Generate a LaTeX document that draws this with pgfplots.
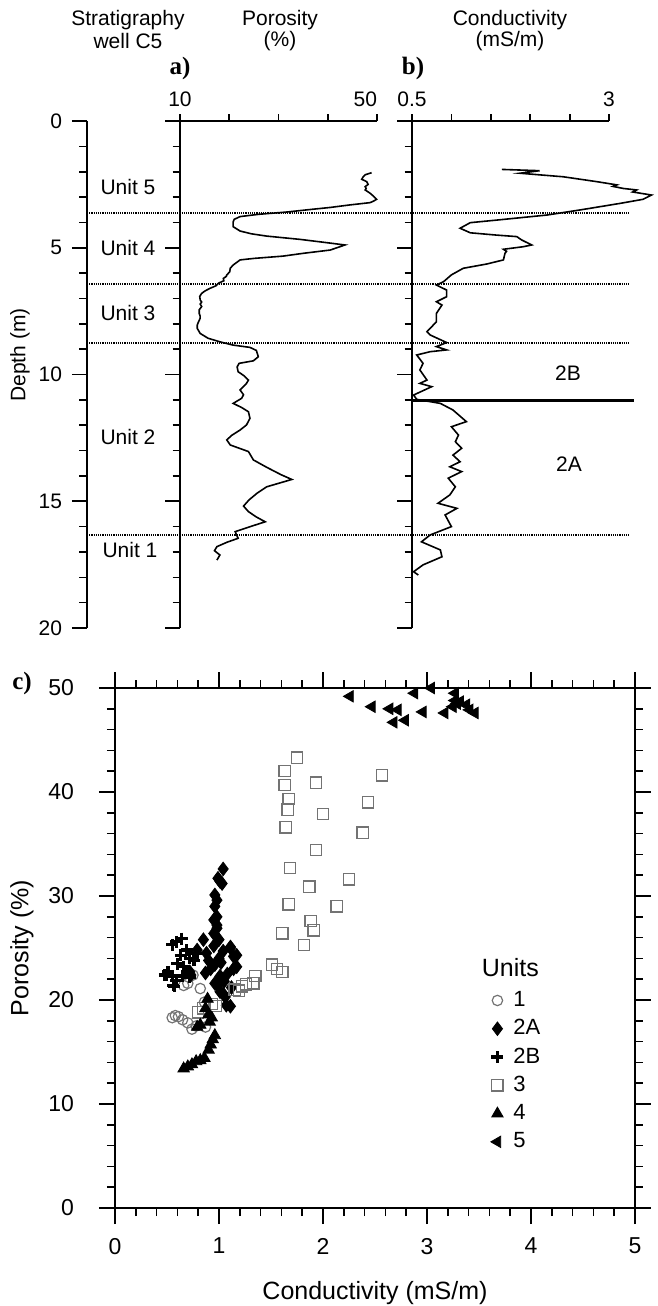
\documentclass[border=0pt]{standalone}
\usepackage{fontspec}
\setmainfont{Liberation Sans}
\newfontfamily\timesfont{Liberation Serif}
\usepackage{pgfplots}
\usepackage{pgfplotstable}
\pgfplotsset{compat=1.18}

\pgfplotstableread{
por dep
48.9 2.04
47.6 2.12
47.2 2.20
46.9 2.30
47.9 2.39
48.2 2.50
47.6 2.59
47.8 2.66
47.6 2.72
48.6 2.85
49.2 2.95
49.9 3.09
49.3 3.16
48.6 3.22
44.5 3.31
40.5 3.41
36.0 3.50
31.7 3.59
26.0 3.68
22.2 3.77
21.0 3.88
20.8 3.98
20.8 4.17
22.2 4.34
24.5 4.45
27.6 4.54
34.4 4.67
39.0 4.78
43.5 4.89
40.5 5.09
35.0 5.22
30.9 5.33
25.0 5.42
22.2 5.48
20.8 5.68
20.2 5.81
20.1 5.95
19.5 6.07
19.4 6.13
18.8 6.21
18.9 6.30
17.8 6.40
17.3 6.50
16.1 6.60
15.1 6.70
14.4 6.80
14.0 6.92
14.1 7.06
14.4 7.14
14.1 7.22
14.4 7.32
13.9 7.45
13.9 7.59
14.1 7.70
14.1 7.78
13.7 7.95
13.5 8.05
13.5 8.18
14.1 8.38
15.7 8.57
18.1 8.71
20.8 8.84
24.2 8.93
25.5 9.05
25.9 9.30
24.9 9.46
22.0 9.56
21.6 9.70
21.8 9.89
23.0 10.05
23.9 10.22
23.5 10.35
22.2 10.61
22.9 10.80
22.5 10.94
20.8 11.14
22.5 11.30
23.9 11.47
24.2 11.73
23.5 11.99
22.2 12.19
20.5 12.40
19.5 12.58
20.2 12.78
23.9 13.04
24.9 13.37
27.6 13.66
30.5 13.95
32.7 14.14
27.6 14.43
25.6 14.69
24.0 14.95
22.9 15.19
23.9 15.41
25.5 15.62
27.3 15.81
24.9 15.96
21.2 16.20
21.8 16.46
19.5 16.62
17.5 16.79
17.0 16.95
18.1 17.12
17.5 17.32
}\porcurve

\pgfplotstableread{
con dep
1.64 1.91
2.12 1.96
1.87 2.06
2.42 2.20
2.84 2.39
3.10 2.52
3.05 2.58
3.18 2.66
3.35 2.72
3.30 2.80
3.54 2.92
3.43 3.09
3.14 3.25
2.63 3.51
2.21 3.71
1.57 3.91
1.24 4.01
1.11 4.23
1.24 4.41
1.57 4.50
1.83 4.56
1.89 4.69
2.02 4.89
1.91 4.96
1.66 5.06
1.70 5.14
1.68 5.22
1.66 5.48
1.45 5.64
1.15 5.81
1.00 6.07
0.90 6.34
0.81 6.47
0.94 6.67
0.94 6.93
0.81 7.13
0.88 7.26
0.81 7.59
0.81 7.92
0.69 8.31
0.73 8.44
0.94 8.74
0.81 8.90
0.94 9.03
0.73 9.10
0.56 9.23
0.64 9.56
0.60 9.82
0.69 10.22
0.60 10.35
0.75 10.48
0.52 10.81
0.56 10.98
0.86 11.14
1.02 11.40
1.19 11.86
1.00 12.06
1.09 12.39
1.05 12.65
1.13 12.91
1.02 13.18
1.11 13.44
0.98 13.64
1.13 13.83
0.96 14.09
1.05 14.43
0.98 14.75
0.83 15.08
1.07 15.28
0.92 15.54
1.00 16.00
0.73 16.33
0.62 16.60
0.86 16.92
0.88 17.19
0.64 17.51
0.52 17.78
0.58 17.91
}\concurve

\pgfplotstableread{
c p
0.55 18.3
0.58 18.5
0.61 18.4
0.65 18.1
0.70 17.8
0.74 17.2
0.78 17.5
0.87 17.4
0.82 21.1
0.86 19.8
0.66 21.4
0.70 21.6
0.75 22.4
}\uA

\pgfplotstableread{
c p
1.04 32.6
0.99 31.7
1.03 31.2
1.01 31.4
0.96 30.1
0.98 29.6
0.96 29.0
0.98 28.0
0.95 27.7
0.98 27.2
0.98 26.9
0.95 26.4
0.85 25.8
1.00 25.8
1.11 25.1
1.17 24.3
0.88 24.5
0.79 24.8
1.04 24.7
1.11 25.0
1.14 24.2
1.17 23.2
1.00 24.0
0.96 23.4
0.87 22.6
0.92 23.0
1.01 22.3
0.96 21.6
1.05 21.8
1.01 20.8
1.06 20.3
1.07 19.5
1.11 19.4
0.72 22.7
1.04 20.6
0.99 21.4
1.14 23.0
0.73 22.4
0.95 25.2
1.02 23.6
1.08 22.5
1.12 21.2
0.90 23.8
}\uBA

\pgfplotstableread{
c p
0.59 25.6
0.64 25.9
0.55 25.3
0.69 24.8
0.63 24.3
0.72 24.0
0.76 23.8
0.51 22.7
0.48 22.4
0.55 22.3
0.59 21.9
0.65 22.3
0.69 22.6
0.56 21.4
0.72 22.2
0.79 24.5
0.49 22.4
0.57 21.3
0.60 23.5
0.66 23.2
}\uBB

\pgfplotstableread{
c p
1.75 43.3
1.63 42.0
1.63 40.7
1.93 40.9
1.67 39.3
1.66 38.3
2.00 37.9
1.64 36.6
1.93 34.4
1.68 32.7
2.25 31.6
1.87 30.9
1.67 29.2
2.13 29.0
1.88 27.6
1.91 26.7
1.61 26.4
2.57 41.6
2.43 39.0
2.38 36.1
1.82 25.3
1.51 23.4
1.56 23.0
1.61 22.7
0.80 18.8
0.97 19.4
1.15 21.0
1.22 21.3
1.33 21.6
1.35 22.3
1.26 21.5
1.19 20.9
0.85 19.2
0.93 19.6
}\uC

\pgfplotstableread{
c p
0.66 13.4
0.70 13.6
0.74 13.8
0.78 14.1
0.82 14.2
0.86 14.4
0.90 15.2
0.92 15.7
0.94 16.2
0.96 16.6
0.91 17.9
0.93 18.3
0.79 17.4
0.82 17.6
0.89 20.1
0.87 19.2
0.90 18.6
}\uD

\pgfplotstableread{
c p
2.26 49.2
2.47 48.2
2.64 48.0
2.72 47.9
2.68 46.7
2.79 46.9
2.88 49.5
2.96 47.7
3.04 50.0
3.17 47.6
3.27 49.5
3.27 48.8
3.29 48.5
3.25 48.2
3.32 48.7
3.38 48.4
3.41 47.9
3.46 47.6
}\uE

\pgfplotsset{
  well/.style={
    scale only axis, anchor=north west, height=253.5pt,
    y dir=reverse, ymin=0, ymax=20,
    ytick={0,5,10,15,20}, minor y tick num=4,
    major tick length=7.5pt, minor tick length=3.75pt,
    axis line style={line width=1pt},
    every tick/.style={line width=0.8pt,black},
    clip=false,
    /pgf/number format/assume math mode=true,
    ticklabel style={font=\fontsize{10.5}{12}\selectfont},
    yticklabel style={xshift=-1.5pt},
  },
  topx/.style={
    scale only axis, anchor=north west, height=253.5pt,
    y dir=reverse, ymin=0, ymax=20,
    axis x line*=top, axis y line=none,
    tick align=outside, xtick pos=right,
    major tick length=3.5pt,
    axis line style={line width=1pt},
    every tick/.style={line width=0.9pt,black},
    /pgf/number format/assume math mode=true,
    ticklabel style={font=\fontsize{10.5}{12}\selectfont},
  },
  lefty/.style={
    well, axis x line=none, axis y line*=left,
    tick align=outside, ytick pos=left, yticklabels={},
  }
}

\begin{document}
\begin{tikzpicture}[x=0.5pt,y=-0.5pt]
\path[use as bounding box] (0,0) rectangle (658,1306);

% stratigraphy axis + overlay
\begin{axis}[well, at={(43.5pt,-60.5pt)}, width=273.5pt,
  xmin=87, xmax=634, axis x line=none, axis y line*=left,
  ytick align=outside, ytick pos=left]
\addplot[black, line width=0.8pt, dash pattern=on 0.6pt off 0.5pt] coordinates {(87,3.62) (630,3.62)};
\addplot[black, line width=0.8pt, dash pattern=on 0.6pt off 0.5pt] coordinates {(87,6.44) (630,6.44)};
\addplot[black, line width=0.8pt, dash pattern=on 0.6pt off 0.5pt] coordinates {(87,8.75) (630,8.75)};
\addplot[black, line width=0.8pt, dash pattern=on 0.6pt off 0.5pt] coordinates {(87,16.33) (630,16.33)};
\addplot[black, line width=1.6pt] coordinates {(412,11.03) (634,11.03)};
\begin{scope}[font=\fontsize{10.5}{12}\selectfont]
\node at (axis cs:128,2.59) {Unit 5};
\node at (axis cs:128,5.01) {Unit 4};
\node at (axis cs:128,7.57) {Unit 3};
\node at (axis cs:128,12.47) {Unit 2};
\node at (axis cs:130,16.94) {Unit 1};
\node at (axis cs:568,9.96) {2B};
\node at (axis cs:569,13.53) {2A};
\end{scope}
\end{axis}

% porosity: top scale
\begin{axis}[topx, at={(90pt,-60.5pt)}, width=98.5pt,
  xmin=10, xmax=50,
  xtick={10,20,30,40,50}, xticklabels={10,,,,{\makebox[0pt][r]{50}}}]
\end{axis}
% porosity: depth scale and curve
\begin{axis}[lefty, at={(90pt,-60.5pt)}, width=98.5pt, xmin=10, xmax=50]
\addplot[black, line width=0.8pt] table[x=por, y=dep] {\porcurve};
\end{axis}

% conductivity: top scale
\begin{axis}[topx, at={(206pt,-60.5pt)}, width=98.5pt,
  xmin=0.5, xmax=3,
  xtick={0.5,1,1.5,2,2.5,3}, xticklabels={0.5,,,,,3}]
\end{axis}
% conductivity: depth scale and curve
\begin{axis}[lefty, at={(206pt,-60.5pt)}, width=98.5pt, xmin=0.5, xmax=3]
\addplot[black, line width=0.8pt] table[x=con, y=dep] {\concurve};
\end{axis}

% scatter
\begin{axis}[at={(57.5pt,-344pt)}, anchor=north west, scale only axis,
  width=260pt, height=260pt,
  xmin=0, xmax=5, ymin=0, ymax=50,
  xtick={0,1,2,3,4,5}, ytick={0,10,20,30,40,50},
  minor x tick num=4, minor y tick num=4,
  tick align=outside, major tick length=8pt, minor tick length=4pt,
  axis line style={line width=1pt},
  every tick/.style={line width=0.8pt,black},
  clip=false,
  /pgf/number format/assume math mode=true,
  ticklabel style={font=\fontsize{11.5}{13}\selectfont},
  xticklabel style={yshift=-3.5pt},
  yticklabel style={xshift=-9pt},
  legend style={draw=none, fill=none, at={(0.722,0.425)}, anchor=north west,
    font=\fontsize{11}{12}\selectfont, row sep=1pt, inner sep=0pt,
    /tikz/every odd column/.append style={column sep=3pt}},
  legend cell align=left]
\addplot[only marks, mark=o, mark size=2.6pt, mark options={draw=black!55, line width=0.6pt}] table[x=c,y=p] {\uA};
\addplot[only marks, mark=diamond*, mark size=3.4pt, mark options={black}] table[x=c,y=p] {\uBA};
\addplot[only marks, mark=+, mark size=3pt, mark options={black, line width=1.6pt}] table[x=c,y=p] {\uBB};
\addplot[only marks, mark=square, mark size=2.8pt, mark options={draw=black!55, line width=0.6pt}] table[x=c,y=p] {\uC};
\addplot[only marks, mark=triangle*, mark size=3.3pt, mark options={black}] table[x=c,y=p] {\uD};
\addplot[only marks, mark=triangle*, mark size=3.3pt, mark options={black, rotate=90}] table[x=c,y=p] {\uE};
\legend{1,2A,2B,3,4,5}
\node[anchor=west, font=\fontsize{12.5}{14}\selectfont] at (axis cs:3.46,23.1) {Units};
\end{axis}

% titles and labels
\begin{scope}[font=\fontsize{10.5}{12}\selectfont]
\node at (128,20) {Stratigraphy};
\node at (128,41) {well C5};
\node at (280,20) {Porosity};
\node at (280,41) {(\%)};
\node at (510,20) {Conductivity};
\node at (510,41) {(mS/m)};
\node[rotate=90] at (20,355) {Depth (m)};
\end{scope}
\node[font=\timesfont\bfseries\fontsize{12.5}{14}\selectfont] at (180,68) {a)};
\node[font=\timesfont\bfseries\fontsize{12.5}{14}\selectfont] at (413,68) {b)};
\node[font=\timesfont\bfseries\fontsize{12.5}{14}\selectfont] at (22,683) {c)};
\node[rotate=90, font=\fontsize{12.5}{14}\selectfont] at (22,948) {Porosity (\%)};
\node[font=\fontsize{12.5}{14}\selectfont] at (375,1293) {Conductivity (mS/m)};
\end{tikzpicture}
\end{document}
